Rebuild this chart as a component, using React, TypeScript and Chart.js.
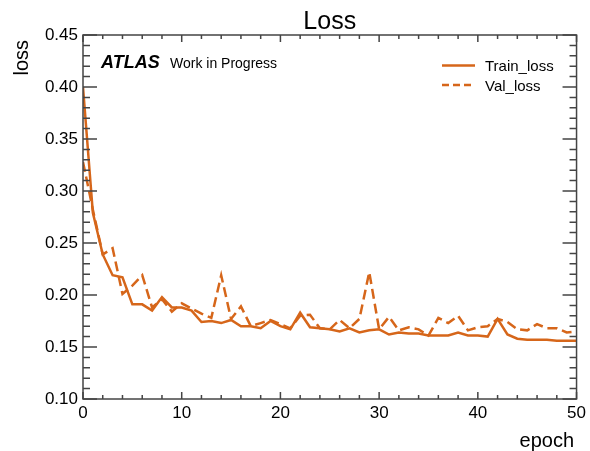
import React, { useEffect, useRef } from "react";
import { Chart, registerables } from "chart.js";

Chart.register(...registerables);

const epochs = [
  0, 1, 2, 3, 4, 5, 6, 7, 8, 9, 10, 11, 12, 13, 14, 15, 16, 17, 18, 19, 20, 21, 22, 23, 24, 25,
  26, 27, 28, 29, 30, 31, 32, 33, 34, 35, 36, 37, 38, 39, 40, 41, 42, 43, 44, 45, 46, 47, 48, 49, 50,
];

const trainLoss = [
  0.400, 0.279, 0.239, 0.219, 0.217, 0.191, 0.191, 0.185, 0.198, 0.188, 0.188, 0.185, 0.174,
  0.175, 0.173, 0.176, 0.170, 0.170, 0.168, 0.175, 0.170, 0.167, 0.183, 0.169, 0.168, 0.167,
  0.165, 0.168, 0.164, 0.166, 0.167, 0.162, 0.164, 0.163, 0.163, 0.161, 0.161, 0.161, 0.164,
  0.161, 0.161, 0.160, 0.177, 0.162, 0.158, 0.157, 0.157, 0.157, 0.156, 0.156, 0.156,
];

const valLoss = [
  0.328, 0.282, 0.239, 0.245, 0.201, 0.209, 0.219, 0.188, 0.196, 0.184, 0.192, 0.187, 0.182,
  0.178, 0.219, 0.177, 0.189, 0.170, 0.173, 0.176, 0.172, 0.168, 0.180, 0.181, 0.168, 0.167,
  0.176, 0.168, 0.177, 0.222, 0.167, 0.179, 0.166, 0.169, 0.167, 0.161, 0.178, 0.173, 0.180,
  0.166, 0.169, 0.170, 0.177, 0.174, 0.167, 0.166, 0.172, 0.168, 0.168, 0.164, 0.165,
];

const xMajorTicks = [0, 10, 20, 30, 40, 50];
const xMinorTicks = [2, 4, 6, 8, 12, 14, 16, 18, 22, 24, 26, 28, 32, 34, 36, 38, 42, 44, 46, 48];
const yMajorTicks = [0.1, 0.15, 0.2, 0.25, 0.3, 0.35, 0.4, 0.45];
const yMinorTicks = [
  0.11, 0.12, 0.13, 0.14, 0.16, 0.17, 0.18, 0.19, 0.21, 0.22, 0.23, 0.24, 0.26, 0.27, 0.28, 0.29,
  0.31, 0.32, 0.33, 0.34, 0.36, 0.37, 0.38, 0.39, 0.41, 0.42, 0.43, 0.44,
];

const seriesNames = ["Train_loss", "Val_loss"];
const COLOR = "#d6661a";
const FONT = "'Liberation Sans', Arial, Helvetica, sans-serif";

const decorPlugin = {
  id: "decor",
  afterDraw(chart: any) {
    const ctx = chart.ctx;
    const { left, right, top, bottom } = chart.chartArea;
    const xs = chart.scales.x;
    const ys = chart.scales.y;
    ctx.save();
    // frame
    ctx.strokeStyle = "#444";
    ctx.lineWidth = 1.5;
    ctx.strokeRect(left, top, right - left, bottom - top);
    // ticks
    ctx.beginPath();
    const xt = (v: number, len: number) => {
      const px = xs.getPixelForValue(v);
      ctx.moveTo(px, bottom);
      ctx.lineTo(px, bottom - len);
      ctx.moveTo(px, top);
      ctx.lineTo(px, top + len);
    };
    const yt = (v: number, len: number) => {
      const py = ys.getPixelForValue(v);
      ctx.moveTo(left, py);
      ctx.lineTo(left + len, py);
      ctx.moveTo(right, py);
      ctx.lineTo(right - len, py);
    };
    xMajorTicks.forEach((v) => xt(v, 7));
    xMinorTicks.forEach((v) => xt(v, 4));
    yMajorTicks.forEach((v) => yt(v, 14));
    yMinorTicks.forEach((v) => yt(v, 7));
    ctx.stroke();

    ctx.fillStyle = "#000";
    // title
    ctx.font = `25px ${FONT}`;
    ctx.textAlign = "center";
    ctx.textBaseline = "alphabetic";
    ctx.fillText("Loss", (left + right) / 2, 29);
    // x title
    ctx.font = `20px ${FONT}`;
    ctx.textAlign = "right";
    ctx.fillText("epoch", 574, 447);
    // y title
    ctx.save();
    ctx.translate(28, 40);
    ctx.rotate(-Math.PI / 2);
    ctx.textAlign = "right";
    ctx.fillText("loss", 0, 0);
    ctx.restore();
    // ATLAS label
    ctx.textAlign = "left";
    ctx.font = `italic bold 18px ${FONT}`;
    ctx.fillText("ATLAS", 101, 68);
    ctx.font = `14px ${FONT}`;
    ctx.fillText("Work in Progress", 170, 68);
    // legend
    ctx.strokeStyle = COLOR;
    ctx.lineWidth = 2.5;
    ctx.beginPath();
    ctx.moveTo(442, 65.5);
    ctx.lineTo(475, 65.5);
    ctx.stroke();
    ctx.setLineDash([7, 4]);
    ctx.beginPath();
    ctx.moveTo(442, 85);
    ctx.lineTo(475, 85);
    ctx.stroke();
    ctx.setLineDash([]);
    ctx.font = `15px ${FONT}`;
    ctx.fillStyle = "#000";
    ctx.fillText(seriesNames[0], 485, 71);
    ctx.fillText(seriesNames[1], 485, 91);
    ctx.restore();
  },
};

export default function App() {
  const ref = useRef<HTMLCanvasElement | null>(null);
  useEffect(() => {
    document.body.style.margin = "0";
    const canvas = ref.current;
    if (!canvas) return;
    const chart = new Chart(canvas, {
      type: "line",
      data: {
        datasets: [
          {
            label: seriesNames[0],
            data: epochs.map((e, i) => ({ x: e, y: trainLoss[i] })),
            borderColor: COLOR,
            borderWidth: 2.5,
            pointRadius: 0,
            tension: 0,
            fill: false,
          },
          {
            label: seriesNames[1],
            data: epochs.map((e, i) => ({ x: e, y: valLoss[i] })),
            borderColor: COLOR,
            borderWidth: 2.5,
            borderDash: [10, 5],
            pointRadius: 0,
            tension: 0,
            fill: false,
          },
        ],
      },
      options: {
        animation: false,
        responsive: false,
        maintainAspectRatio: false,
        layout: { padding: { left: 0, top: 35, right: 12, bottom: 0 } },
        plugins: { legend: { display: false }, title: { display: false }, tooltip: { enabled: false } },
        scales: {
          x: {
            type: "linear",
            min: 0,
            max: 50,
            grid: { display: false, drawTicks: false },
            border: { display: false },
            ticks: {
              stepSize: 10,
              padding: 4,
              color: "#000",
              font: { family: FONT, size: 17 },
              maxRotation: 0,
            },
            afterFit: (s: any) => {
              s.height = 52;
            },
          },
          y: {
            type: "linear",
            min: 0.1,
            max: 0.45,
            grid: { display: false, drawTicks: false },
            border: { display: false },
            ticks: {
              stepSize: 0.05,
              padding: 5,
              color: "#000",
              font: { family: FONT, size: 17 },
              callback: (v: any) => Number(v).toFixed(2),
            },
            afterFit: (s: any) => {
              s.width = 83;
            },
          },
        },
      },
      plugins: [decorPlugin],
    });
    return () => chart.destroy();
  }, []);
  return <canvas ref={ref} width={590} height={451} style={{ display: "block" }} />;
}
